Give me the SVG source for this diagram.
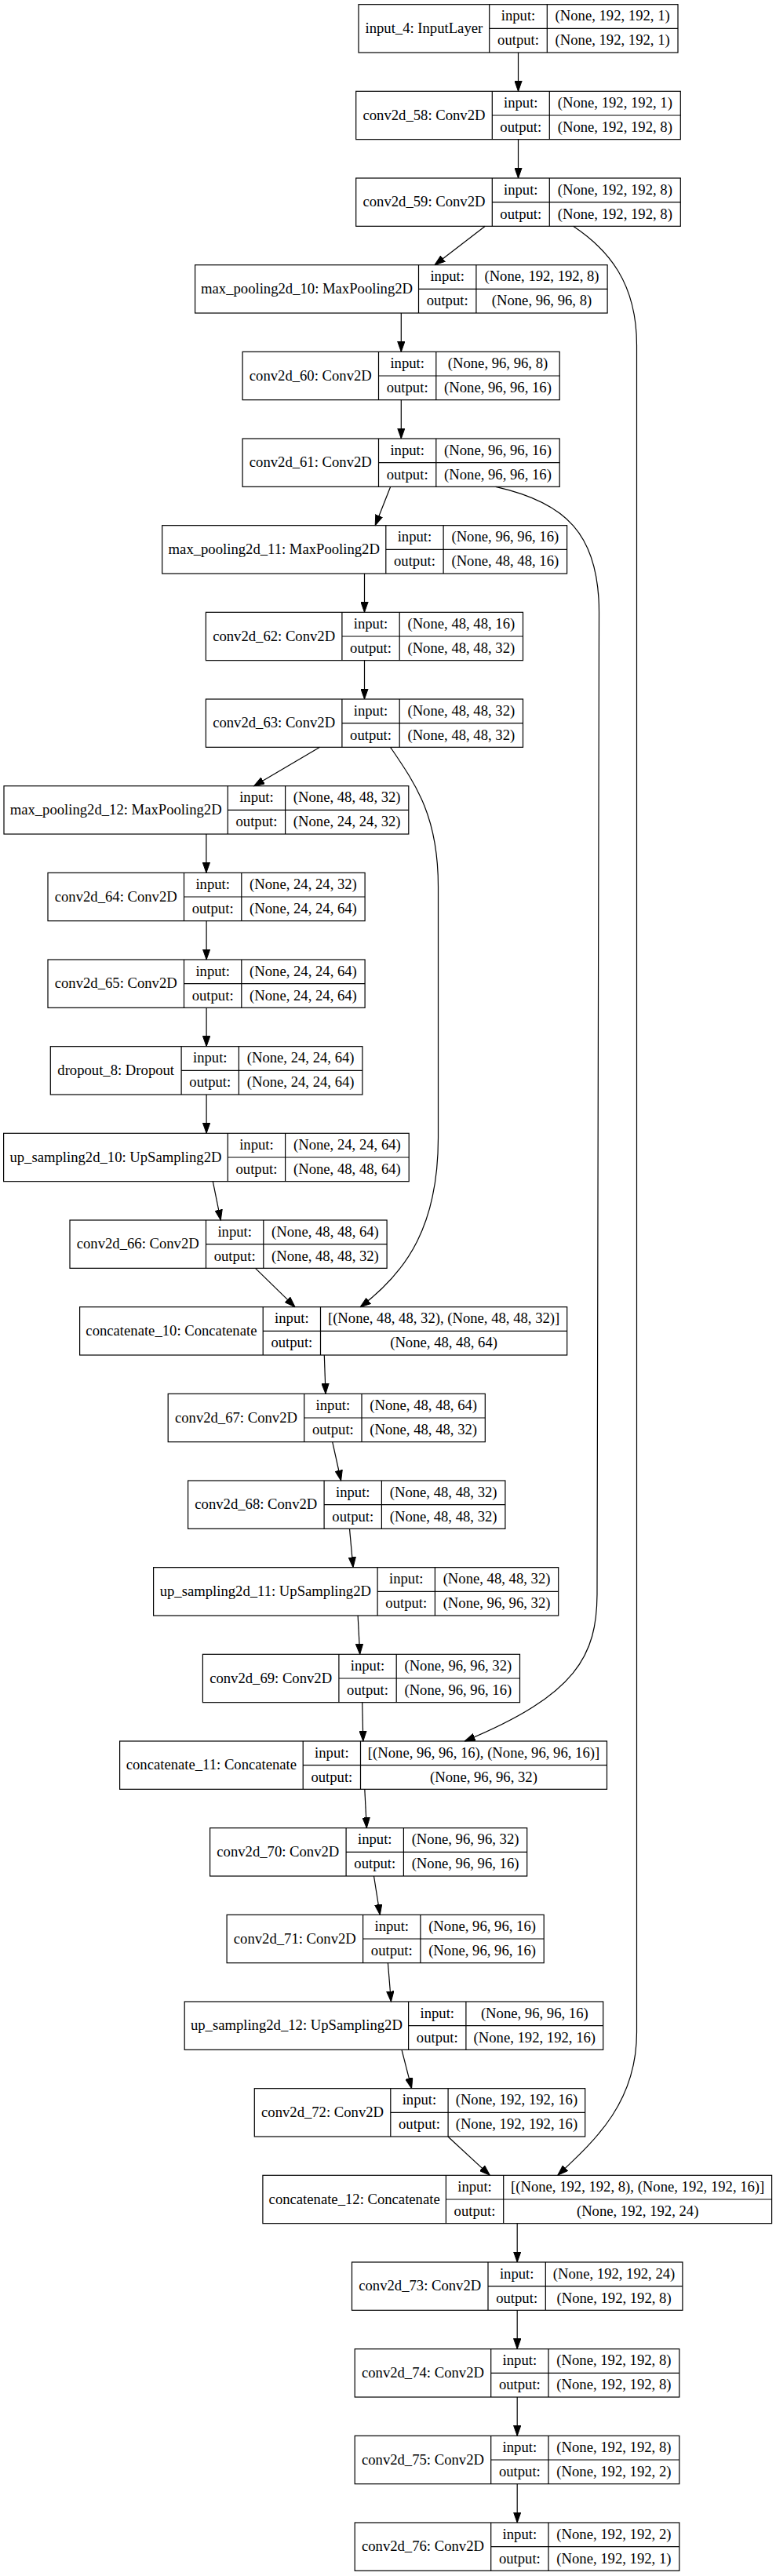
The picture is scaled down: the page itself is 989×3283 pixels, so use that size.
<svg xmlns="http://www.w3.org/2000/svg" width="989" height="3283" viewBox="0 0 989 3283">
<style>
rect{fill:#fff;stroke:#000;stroke-width:1.2}
.d{fill:none;stroke:#000;stroke-width:1.2}
text{font-family:"Liberation Serif","Times New Roman",serif;font-size:18.67px;text-anchor:middle;fill:#000}
.e{fill:none;stroke:#000;stroke-width:1.2;marker-end:url(#ah)}
</style>
<defs>
<marker id="ah" viewBox="0 0 14 10" refX="13.3" refY="5" markerWidth="14" markerHeight="10" markerUnits="userSpaceOnUse" orient="auto"><path d="M0,0.33L13.3,5L0,9.67z" fill="#000" stroke="#000" stroke-width="1"/></marker>
</defs>
<rect x="0" y="0" width="989" height="3283" style="stroke:none"/>
<g id="nodes">
<g id="input_4"><rect x="457" y="5.67" width="407" height="61.33"/><path class="d" d="M623.7,5.67V67M697.3,5.67V67M623.7,36.33H864"/><text x="540.35" y="41.87">input_4: InputLayer</text><text x="660.5" y="26.47">input:</text><text x="660.5" y="57.17">output:</text><text x="780.65" y="26.47">(None, 192, 192, 1)</text><text x="780.65" y="57.17">(None, 192, 192, 1)</text></g>
<g id="conv2d_58"><rect x="453.7" y="116.33" width="413.6" height="61.33"/><path class="d" d="M627.3,116.33V177.67M700.3,116.33V177.67M627.3,147H867.3"/><text x="540.5" y="152.53">conv2d_58: Conv2D</text><text x="663.8" y="137.13">input:</text><text x="663.8" y="167.83">output:</text><text x="783.8" y="137.13">(None, 192, 192, 1)</text><text x="783.8" y="167.83">(None, 192, 192, 8)</text></g>
<g id="conv2d_59"><rect x="453.7" y="227" width="413.6" height="61.33"/><path class="d" d="M627.3,227V288.33M700.3,227V288.33M627.3,257.67H867.3"/><text x="540.5" y="263.2">conv2d_59: Conv2D</text><text x="663.8" y="247.8">input:</text><text x="663.8" y="278.5">output:</text><text x="783.8" y="247.8">(None, 192, 192, 8)</text><text x="783.8" y="278.5">(None, 192, 192, 8)</text></g>
<g id="max_pooling2d_10"><rect x="248.6" y="337.67" width="525.5" height="61.33"/><path class="d" d="M533.5,337.67V399M606.9,337.67V399M533.5,368.33H774.1"/><text x="391.05" y="373.87">max_pooling2d_10: MaxPooling2D</text><text x="570.2" y="358.47">input:</text><text x="570.2" y="389.17">output:</text><text x="690.5" y="358.47">(None, 192, 192, 8)</text><text x="690.5" y="389.17">(None, 96, 96, 8)</text></g>
<g id="conv2d_60"><rect x="309.1" y="448.33" width="404.1" height="61.33"/><path class="d" d="M482.5,448.33V509.67M555.8,448.33V509.67M482.5,479H713.2"/><text x="395.8" y="484.53">conv2d_60: Conv2D</text><text x="519.15" y="469.13">input:</text><text x="519.15" y="499.83">output:</text><text x="634.5" y="469.13">(None, 96, 96, 8)</text><text x="634.5" y="499.83">(None, 96, 96, 16)</text></g>
<g id="conv2d_61"><rect x="309.1" y="559" width="404.1" height="61.33"/><path class="d" d="M482.5,559V620.33M555.8,559V620.33M482.5,589.67H713.2"/><text x="395.8" y="595.2">conv2d_61: Conv2D</text><text x="519.15" y="579.8">input:</text><text x="519.15" y="610.5">output:</text><text x="634.5" y="579.8">(None, 96, 96, 16)</text><text x="634.5" y="610.5">(None, 96, 96, 16)</text></g>
<g id="max_pooling2d_11"><rect x="206.7" y="669.67" width="515.9" height="61.33"/><path class="d" d="M491.8,669.67V731M565.1,669.67V731M491.8,700.33H722.6"/><text x="349.25" y="705.87">max_pooling2d_11: MaxPooling2D</text><text x="528.45" y="690.47">input:</text><text x="528.45" y="721.17">output:</text><text x="643.85" y="690.47">(None, 96, 96, 16)</text><text x="643.85" y="721.17">(None, 48, 48, 16)</text></g>
<g id="conv2d_62"><rect x="262.4" y="780.33" width="404.1" height="61.33"/><path class="d" d="M435.9,780.33V841.67M509.2,780.33V841.67M435.9,811H666.5"/><text x="349.15" y="816.53">conv2d_62: Conv2D</text><text x="472.55" y="801.13">input:</text><text x="472.55" y="831.83">output:</text><text x="587.85" y="801.13">(None, 48, 48, 16)</text><text x="587.85" y="831.83">(None, 48, 48, 32)</text></g>
<g id="conv2d_63"><rect x="262.4" y="891" width="404.1" height="61.33"/><path class="d" d="M435.9,891V952.33M509.2,891V952.33M435.9,921.67H666.5"/><text x="349.15" y="927.2">conv2d_63: Conv2D</text><text x="472.55" y="911.8">input:</text><text x="472.55" y="942.5">output:</text><text x="587.85" y="911.8">(None, 48, 48, 32)</text><text x="587.85" y="942.5">(None, 48, 48, 32)</text></g>
<g id="max_pooling2d_12"><rect x="5" y="1001.67" width="515.8" height="61.33"/><path class="d" d="M290.3,1001.67V1063M363.6,1001.67V1063M290.3,1032.33H520.8"/><text x="147.65" y="1037.87">max_pooling2d_12: MaxPooling2D</text><text x="326.95" y="1022.47">input:</text><text x="326.95" y="1053.17">output:</text><text x="442.2" y="1022.47">(None, 48, 48, 32)</text><text x="442.2" y="1053.17">(None, 24, 24, 32)</text></g>
<g id="conv2d_64"><rect x="61" y="1112.33" width="404.1" height="61.33"/><path class="d" d="M234.5,1112.33V1173.67M307.8,1112.33V1173.67M234.5,1143H465.1"/><text x="147.75" y="1148.53">conv2d_64: Conv2D</text><text x="271.15" y="1133.13">input:</text><text x="271.15" y="1163.83">output:</text><text x="386.45" y="1133.13">(None, 24, 24, 32)</text><text x="386.45" y="1163.83">(None, 24, 24, 64)</text></g>
<g id="conv2d_65"><rect x="61" y="1223" width="404.1" height="61.33"/><path class="d" d="M234.5,1223V1284.33M307.8,1223V1284.33M234.5,1253.67H465.1"/><text x="147.75" y="1259.2">conv2d_65: Conv2D</text><text x="271.15" y="1243.8">input:</text><text x="271.15" y="1274.5">output:</text><text x="386.45" y="1243.8">(None, 24, 24, 64)</text><text x="386.45" y="1274.5">(None, 24, 24, 64)</text></g>
<g id="dropout_8"><rect x="64.3" y="1333.67" width="397.6" height="61.33"/><path class="d" d="M231.1,1333.67V1395M304.4,1333.67V1395M231.1,1364.33H461.9"/><text x="147.7" y="1369.87">dropout_8: Dropout</text><text x="267.75" y="1354.47">input:</text><text x="267.75" y="1385.17">output:</text><text x="383.15" y="1354.47">(None, 24, 24, 64)</text><text x="383.15" y="1385.17">(None, 24, 24, 64)</text></g>
<g id="up_sampling2d_10"><rect x="4.6" y="1444.33" width="516.6" height="61.33"/><path class="d" d="M290.3,1444.33V1505.67M363.6,1444.33V1505.67M290.3,1475H521.2"/><text x="147.45" y="1480.53">up_sampling2d_10: UpSampling2D</text><text x="326.95" y="1465.13">input:</text><text x="326.95" y="1495.83">output:</text><text x="442.4" y="1465.13">(None, 24, 24, 64)</text><text x="442.4" y="1495.83">(None, 48, 48, 64)</text></g>
<g id="conv2d_66"><rect x="89" y="1555" width="404.1" height="61.33"/><path class="d" d="M262.5,1555V1616.33M335.8,1555V1616.33M262.5,1585.67H493.1"/><text x="175.75" y="1591.2">conv2d_66: Conv2D</text><text x="299.15" y="1575.8">input:</text><text x="299.15" y="1606.5">output:</text><text x="414.45" y="1575.8">(None, 48, 48, 64)</text><text x="414.45" y="1606.5">(None, 48, 48, 32)</text></g>
<g id="concatenate_10"><rect x="101.6" y="1665.67" width="621.1" height="61.33"/><path class="d" d="M335.2,1665.67V1727M408.5,1665.67V1727M335.2,1696.33H722.7"/><text x="218.4" y="1701.87">concatenate_10: Concatenate</text><text x="371.85" y="1686.47">input:</text><text x="371.85" y="1717.17">output:</text><text x="565.6" y="1686.47">[(None, 48, 48, 32), (None, 48, 48, 32)]</text><text x="565.6" y="1717.17">(None, 48, 48, 64)</text></g>
<g id="conv2d_67"><rect x="214.2" y="1776.33" width="404.1" height="61.33"/><path class="d" d="M387.7,1776.33V1837.67M461,1776.33V1837.67M387.7,1807H618.3"/><text x="300.95" y="1812.53">conv2d_67: Conv2D</text><text x="424.35" y="1797.13">input:</text><text x="424.35" y="1827.83">output:</text><text x="539.65" y="1797.13">(None, 48, 48, 64)</text><text x="539.65" y="1827.83">(None, 48, 48, 32)</text></g>
<g id="conv2d_68"><rect x="239.6" y="1887" width="404.3" height="61.33"/><path class="d" d="M413.1,1887V1948.33M486.4,1887V1948.33M413.1,1917.67H643.9"/><text x="326.35" y="1923.2">conv2d_68: Conv2D</text><text x="449.75" y="1907.8">input:</text><text x="449.75" y="1938.5">output:</text><text x="565.15" y="1907.8">(None, 48, 48, 32)</text><text x="565.15" y="1938.5">(None, 48, 48, 32)</text></g>
<g id="up_sampling2d_11"><rect x="195.6" y="1997.67" width="516.1" height="61.33"/><path class="d" d="M481.1,1997.67V2059M554.4,1997.67V2059M481.1,2028.33H711.7"/><text x="338.35" y="2033.87">up_sampling2d_11: UpSampling2D</text><text x="517.75" y="2018.47">input:</text><text x="517.75" y="2049.17">output:</text><text x="633.05" y="2018.47">(None, 48, 48, 32)</text><text x="633.05" y="2049.17">(None, 96, 96, 32)</text></g>
<g id="conv2d_69"><rect x="258.4" y="2108.33" width="404.1" height="61.33"/><path class="d" d="M431.9,2108.33V2169.67M505.2,2108.33V2169.67M431.9,2139H662.5"/><text x="345.15" y="2144.53">conv2d_69: Conv2D</text><text x="468.55" y="2129.13">input:</text><text x="468.55" y="2159.83">output:</text><text x="583.85" y="2129.13">(None, 96, 96, 32)</text><text x="583.85" y="2159.83">(None, 96, 96, 16)</text></g>
<g id="concatenate_11"><rect x="152.6" y="2219" width="620.9" height="61.33"/><path class="d" d="M386.2,2219V2280.33M459.5,2219V2280.33M386.2,2249.67H773.5"/><text x="269.4" y="2255.2">concatenate_11: Concatenate</text><text x="422.85" y="2239.8">input:</text><text x="422.85" y="2270.5">output:</text><text x="616.5" y="2239.8">[(None, 96, 96, 16), (None, 96, 96, 16)]</text><text x="616.5" y="2270.5">(None, 96, 96, 32)</text></g>
<g id="conv2d_70"><rect x="267.6" y="2329.67" width="404.1" height="61.33"/><path class="d" d="M441.1,2329.67V2391M514.4,2329.67V2391M441.1,2360.33H671.7"/><text x="354.35" y="2365.87">conv2d_70: Conv2D</text><text x="477.75" y="2350.47">input:</text><text x="477.75" y="2381.17">output:</text><text x="593.05" y="2350.47">(None, 96, 96, 32)</text><text x="593.05" y="2381.17">(None, 96, 96, 16)</text></g>
<g id="conv2d_71"><rect x="289.1" y="2440.33" width="404.1" height="61.33"/><path class="d" d="M462.6,2440.33V2501.67M535.9,2440.33V2501.67M462.6,2471H693.2"/><text x="375.85" y="2476.53">conv2d_71: Conv2D</text><text x="499.25" y="2461.13">input:</text><text x="499.25" y="2491.83">output:</text><text x="614.55" y="2461.13">(None, 96, 96, 16)</text><text x="614.55" y="2491.83">(None, 96, 96, 16)</text></g>
<g id="up_sampling2d_12"><rect x="235.2" y="2551" width="533.5" height="61.33"/><path class="d" d="M520.6,2551V2612.33M593.9,2551V2612.33M520.6,2581.67H768.7"/><text x="377.9" y="2587.2">up_sampling2d_12: UpSampling2D</text><text x="557.25" y="2571.8">input:</text><text x="557.25" y="2602.5">output:</text><text x="681.3" y="2571.8">(None, 96, 96, 16)</text><text x="681.3" y="2602.5">(None, 192, 192, 16)</text></g>
<g id="conv2d_72"><rect x="324.3" y="2661.67" width="421.4" height="61.33"/><path class="d" d="M497.8,2661.67V2723M571.1,2661.67V2723M497.8,2692.33H745.7"/><text x="411.05" y="2697.87">conv2d_72: Conv2D</text><text x="534.45" y="2682.47">input:</text><text x="534.45" y="2713.17">output:</text><text x="658.4" y="2682.47">(None, 192, 192, 16)</text><text x="658.4" y="2713.17">(None, 192, 192, 16)</text></g>
<g id="concatenate_12"><rect x="334.9" y="2772.33" width="648.7" height="61.33"/><path class="d" d="M568.4,2772.33V2833.67M641.7,2772.33V2833.67M568.4,2803H983.6"/><text x="451.65" y="2808.53">concatenate_12: Concatenate</text><text x="605.05" y="2793.13">input:</text><text x="605.05" y="2823.83">output:</text><text x="812.65" y="2793.13">[(None, 192, 192, 8), (None, 192, 192, 16)]</text><text x="812.65" y="2823.83">(None, 192, 192, 24)</text></g>
<g id="conv2d_73"><rect x="448.5" y="2883" width="421.4" height="61.33"/><path class="d" d="M622,2883V2944.33M695.3,2883V2944.33M622,2913.67H869.9"/><text x="535.25" y="2919.2">conv2d_73: Conv2D</text><text x="658.65" y="2903.8">input:</text><text x="658.65" y="2934.5">output:</text><text x="782.6" y="2903.8">(None, 192, 192, 24)</text><text x="782.6" y="2934.5">(None, 192, 192, 8)</text></g>
<g id="conv2d_74"><rect x="452.2" y="2993.67" width="413.6" height="61.33"/><path class="d" d="M625.7,2993.67V3055M699,2993.67V3055M625.7,3024.33H865.8"/><text x="538.95" y="3029.87">conv2d_74: Conv2D</text><text x="662.35" y="3014.47">input:</text><text x="662.35" y="3045.17">output:</text><text x="782.4" y="3014.47">(None, 192, 192, 8)</text><text x="782.4" y="3045.17">(None, 192, 192, 8)</text></g>
<g id="conv2d_75"><rect x="452.2" y="3104.33" width="413.6" height="61.33"/><path class="d" d="M625.7,3104.33V3165.67M699,3104.33V3165.67M625.7,3135H865.8"/><text x="538.95" y="3140.53">conv2d_75: Conv2D</text><text x="662.35" y="3125.13">input:</text><text x="662.35" y="3155.83">output:</text><text x="782.4" y="3125.13">(None, 192, 192, 8)</text><text x="782.4" y="3155.83">(None, 192, 192, 2)</text></g>
<g id="conv2d_76"><rect x="452.2" y="3215" width="413.6" height="61.33"/><path class="d" d="M625.7,3215V3276.33M699,3215V3276.33M625.7,3245.67H865.8"/><text x="538.95" y="3251.2">conv2d_76: Conv2D</text><text x="662.35" y="3235.8">input:</text><text x="662.35" y="3266.5">output:</text><text x="782.4" y="3235.8">(None, 192, 192, 2)</text><text x="782.4" y="3266.5">(None, 192, 192, 1)</text></g>
</g>
<g id="connectors">
<path class="e" d="M660.5,67L660.5,116.33"/>
<path class="e" d="M660.5,177.67L660.5,227"/>
<path class="e" d="M618.3,288.33L554,337.67"/>
<path class="e" d="M730.6,288.33C775,318 811.5,360 811.5,440L811.5,2590C811.5,2680 758,2728 710.8,2772.33"/>
<path class="e" d="M511.3,399L511.3,448.33"/>
<path class="e" d="M511.3,509.67L511.3,559"/>
<path class="e" d="M497.7,620.33L478.2,669.67"/>
<path class="e" d="M631.7,620.33C720,640 763.5,680 763.5,780L761,2030C761,2110 735,2160 592.3,2219"/>
<path class="e" d="M464.5,731L464.5,780.33"/>
<path class="e" d="M464.5,841.67L464.5,891"/>
<path class="e" d="M407.6,952.33L323.6,1001.67"/>
<path class="e" d="M497.6,952.33C530,1000 558.5,1040 558.5,1130L558.5,1450C558.5,1560 520,1620 459.2,1665.67"/>
<path class="e" d="M262.9,1063L262.9,1112.33"/>
<path class="e" d="M263.1,1173.67L263.1,1223"/>
<path class="e" d="M263.1,1284.33L263.1,1333.67"/>
<path class="e" d="M263.1,1395L263.1,1444.33"/>
<path class="e" d="M271.3,1505.67L281.3,1555"/>
<path class="e" d="M325.5,1616.33L376,1665.67"/>
<path class="e" d="M413.3,1727L415,1776.33"/>
<path class="e" d="M423.7,1837.67L434.6,1887"/>
<path class="e" d="M445.5,1948.33L450,1997.67"/>
<path class="e" d="M456.1,2059L458.7,2108.33"/>
<path class="e" d="M461.7,2169.67L462.8,2219"/>
<path class="e" d="M464.8,2280.33L467.3,2329.67"/>
<path class="e" d="M476.5,2391L484.3,2440.33"/>
<path class="e" d="M494.4,2501.67L498.4,2551"/>
<path class="e" d="M512,2612.33L524.6,2661.67"/>
<path class="e" d="M570.9,2723L624.3,2772.33"/>
<path class="e" d="M659.2,2833.67L659.2,2883"/>
<path class="e" d="M659.2,2944.33L659.2,2993.67"/>
<path class="e" d="M659.2,3055L659.2,3104.33"/>
<path class="e" d="M659.2,3165.67L659.2,3215"/>
</g>
</svg>
